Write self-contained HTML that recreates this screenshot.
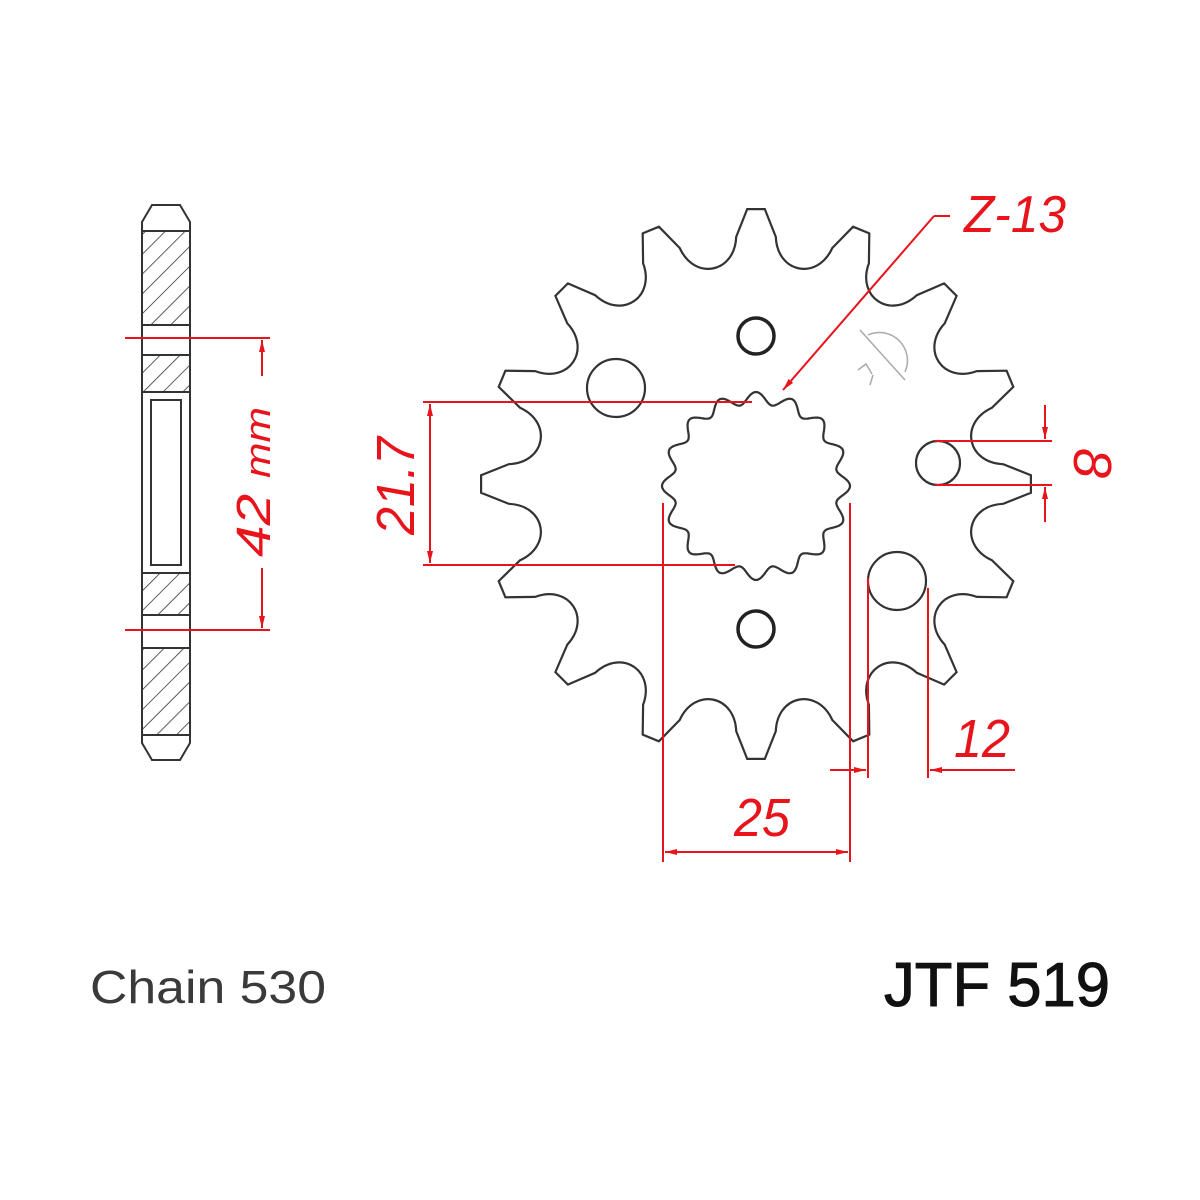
<!DOCTYPE html>
<html><head><meta charset="utf-8"><style>
html,body{margin:0;padding:0;background:#fff}
svg{display:block}
.r{fill:#e8141c;font-family:"Liberation Sans",sans-serif;font-style:italic}
</style></head><body>
<svg id="s" width="1200" height="1200" viewBox="0 0 1200 1200" xmlns="http://www.w3.org/2000/svg">
<defs>
<pattern id="h" patternUnits="userSpaceOnUse" width="14" height="14" patternTransform="rotate(45)">
<line x1="0" y1="0" x2="0" y2="14" stroke="#333" stroke-width="1.6"/>
</pattern>
<marker id="a" viewBox="0 0 10 10" refX="10" refY="5" markerWidth="12" markerHeight="12" orient="auto-start-reverse" markerUnits="userSpaceOnUse">
<path d="M0,2.5 L10,5 L0,7.5 z" fill="#e8141c"/>
</marker>
</defs>
<rect width="1200" height="1200" fill="#fff"/>

<!-- side view -->
<g stroke="#333" stroke-width="2" fill="none">
<rect x="142" y="231" width="48" height="94" fill="url(#h)"/>
<rect x="142" y="355" width="48" height="37" fill="url(#h)"/>
<rect x="142" y="573" width="48" height="42" fill="url(#h)"/>
<rect x="142" y="648" width="48" height="87" fill="url(#h)"/>
<rect x="142" y="325" width="48" height="30" fill="#fff"/>
<rect x="142" y="615" width="48" height="33" fill="#fff"/>
<rect x="142" y="392" width="48" height="181" fill="#fff"/>
<rect x="151" y="400" width="30" height="165"/>
<path d="M142,231 L142,222 L152,205 L180,205 L190,222 L190,231"/>
<path d="M142,735 L142,743 L152,760 L180,760 L190,743 L190,735"/>
</g>
<g stroke="#e8141c" stroke-width="2" fill="none">
<line x1="125" y1="338" x2="270" y2="338"/>
<line x1="125" y1="630" x2="270" y2="630"/>
<line x1="262" y1="376" x2="262" y2="340" marker-end="url(#a)"/>
<line x1="262" y1="568" x2="262" y2="628" marker-end="url(#a)"/>
</g>
<text class="r" transform="translate(270,482) rotate(-90)" text-anchor="middle" font-size="48" textLength="150" lengthAdjust="spacingAndGlyphs">42 <tspan font-size="36">mm</tspan></text>

<!-- sprocket -->
<g id="sp" stroke="#333" stroke-width="2.2" fill="none"></g>
<g stroke="#222" stroke-width="3.5" fill="none">
<circle cx="756" cy="336" r="18"/>
<circle cx="756" cy="629" r="18"/>
</g>
<g stroke="#333" stroke-width="2.2" fill="none">
<circle cx="616" cy="388" r="29"/>
<circle cx="897" cy="581" r="29"/>
<circle cx="938" cy="463" r="22"/>
</g>
<!-- faint logo -->
<g stroke="#aaa" stroke-width="1.5" fill="none">
<path d="M868,335 A28,28 0 0 1 905,372"/>
<line x1="860" y1="330" x2="905" y2="380"/>
<path d="M858,370 l8,-6 l6,10 M870,385 l3,-10"/>
</g>

<!-- red dims -->
<g stroke="#e8141c" stroke-width="2" fill="none">
<line x1="423" y1="402" x2="752" y2="402"/>
<line x1="423" y1="565" x2="735" y2="565"/>
<line x1="430" y1="445" x2="430" y2="404" marker-end="url(#a)"/>
<line x1="430" y1="520" x2="430" y2="563" marker-end="url(#a)"/>
<line x1="430" y1="440" x2="430" y2="527"/>
<line x1="663" y1="503" x2="663" y2="862"/>
<line x1="850" y1="503" x2="850" y2="862"/>
<line x1="700" y1="852" x2="665" y2="852" marker-end="url(#a)"/>
<line x1="810" y1="852" x2="848" y2="852" marker-end="url(#a)"/>
<line x1="700" y1="852" x2="810" y2="852"/>
<line x1="868" y1="578" x2="868" y2="778"/>
<line x1="928" y1="588" x2="928" y2="778"/>
<line x1="830" y1="770" x2="866" y2="770" marker-end="url(#a)"/>
<line x1="1015" y1="770" x2="930" y2="770" marker-end="url(#a)"/>
<line x1="935" y1="441" x2="1052" y2="441"/>
<line x1="935" y1="485" x2="1052" y2="485"/>
<line x1="1045" y1="405" x2="1045" y2="439" marker-end="url(#a)"/>
<line x1="1045" y1="522" x2="1045" y2="487" marker-end="url(#a)"/>
<line x1="934" y1="216" x2="783" y2="390" marker-end="url(#a)"/>
<line x1="934" y1="216" x2="950" y2="216"/>
</g>
<text class="r" transform="translate(414,486) rotate(-90)" text-anchor="middle" font-size="54" textLength="98" lengthAdjust="spacingAndGlyphs">21.7</text>
<text class="r" x="762" y="836" text-anchor="middle" font-size="54" textLength="56" lengthAdjust="spacingAndGlyphs">25</text>
<text class="r" x="982" y="757" text-anchor="middle" font-size="54" textLength="56" lengthAdjust="spacingAndGlyphs">12</text>
<text class="r" transform="translate(1074,463) rotate(90)" text-anchor="middle" font-size="54">8</text>
<text class="r" x="964" y="232" font-size="52" textLength="102" lengthAdjust="spacingAndGlyphs">Z-13</text>

<text x="90" y="1003" font-family="Liberation Sans,sans-serif" font-size="46" fill="#3a3a3a" textLength="236" lengthAdjust="spacingAndGlyphs">Chain 530</text>
<text x="884" y="1006" font-family="Liberation Sans,sans-serif" font-size="62" fill="#111" stroke="#111" stroke-width="1" textLength="226" lengthAdjust="spacingAndGlyphs">JTF 519</text>
</svg>
<script>
(function(){
var cx=756,cy=484,N=16,P=2*Math.PI/N,d='';
function pt(a,r){return (cx+r*Math.cos(a)).toFixed(1)+','+(cy+r*Math.sin(a)).toFixed(1);}
for(var i=0;i<N;i++){
 var t=-Math.PI/2+i*P;
 d+=(i==0?'M':'L')+pt(t-0.032,275)+' L'+pt(t+0.032,275)+' L'+pt(t+0.08,248)+
 ' C'+pt(t+0.1,212)+' '+pt(t+P-0.1,212)+' '+pt(t+P-0.08,248)+' L'+pt(t+P-0.032,275);
}
d+='Z';
var n=16,s='';
for(var k=0;k<=720;k++){
 var a=k/720*2*Math.PI;
 var r=88+6*Math.cos(n*a);
 var x=cx+r*Math.cos(a),y=486+r*Math.sin(a);
 s+=(k==0?'M':'L')+x.toFixed(1)+','+y.toFixed(1);
}
var g=document.getElementById('sp');
g.innerHTML='<path d="'+d+'"/><path d="'+s+'Z"/>';
})();
</script>
</body></html>
